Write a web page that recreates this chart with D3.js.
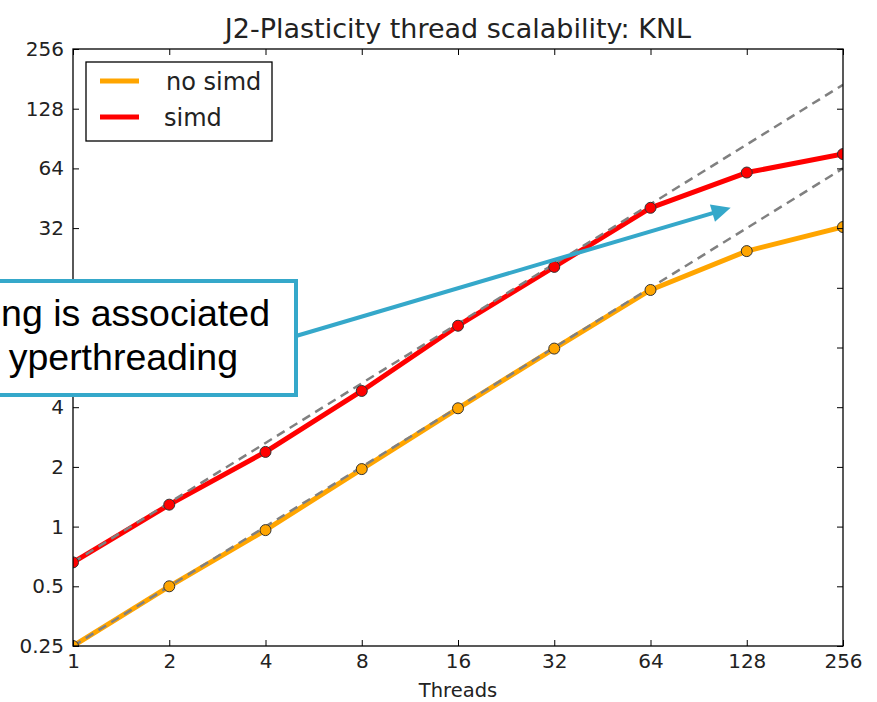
<!DOCTYPE html>
<html>
<head>
<meta charset="utf-8">
<script src="https://cdn.jsdelivr.net/npm/d3@7"></script>
<style>
  html, body { margin: 0; padding: 0; background: #fff; }
  svg { display: block; }
</style>
</head>
<body>
<div id="chart"></div>
<script>
// J2-Plasticity thread scalability (KNL), log2/log2 plot

// -------------------------------------------------------------
// Data
// -------------------------------------------------------------
const threads = [1, 2, 4, 8, 16, 32, 64, 128, 256];
const noSimd = [0.25, 0.5, 0.96, 1.95, 3.95, 7.9, 15.6, 24.5, 32.4];
const simd = [0.66, 1.29, 2.38, 4.83, 10.3, 20.4, 40.5, 61, 75.6];

const xTicks = [1, 2, 4, 8, 16, 32, 64, 128, 256];
const yTicks = [0.25, 0.5, 1, 2, 4, 8, 16, 32, 64, 128, 256];
// 16 and 8 sit under the call-out box in the reference, so no label
const yTickLabels = ["0.25", "0.5", "1", "2", "4", "", "", "32", "64", "128", "256"];

const seriesNames = ["no simd", "simd"];
const seriesColors = ["#ffa500", "#ff0000"];

const noteLines = ["ng is associated", "yperthreading"];
const noteTarget = [114, 40.5];   // arrow tip, in data units

// -------------------------------------------------------------
// Layout
// -------------------------------------------------------------
const width = 877, height = 702;
const margin = { top: 49, right: 34, bottom: 56, left: 73 };
const innerW = width - margin.left - margin.right;
const innerH = height - margin.top - margin.bottom;

const svg = d3.select("#chart").append("svg")
  .attr("width", width)
  .attr("height", height);

const x = d3.scaleLog().base(2).domain([1, 256]).range([0, innerW]);
const y = d3.scaleLog().base(2).domain([0.25, 256]).range([innerH, 0]);

const g = svg.append("g")
  .attr("transform", `translate(${margin.left},${margin.top})`);

g.append("clipPath").attr("id", "plotClip")
  .append("rect").attr("width", innerW).attr("height", innerH);

const plot = g.append("g").attr("clip-path", "url(#plotClip)");

const line = d3.line()
  .x(d => x(d[0]))
  .y(d => y(d[1]));

const series = [noSimd, simd].map((vals, i) => ({
  name: seriesNames[i],
  color: seriesColors[i],
  points: threads.map((t, j) => [t, vals[j]])
}));

// data lines
plot.selectAll("path.series")
  .data(series)
  .join("path")
  .attr("class", "series")
  .attr("fill", "none")
  .attr("stroke", d => d.color)
  .attr("stroke-width", 5)
  .attr("stroke-linejoin", "round")
  .attr("d", d => line(d.points));

// ideal scaling (dashed) from each series' first point
plot.selectAll("path.ideal")
  .data(series)
  .join("path")
  .attr("class", "ideal")
  .attr("fill", "none")
  .attr("stroke", "#808080")
  .attr("stroke-width", 2.5)
  .attr("stroke-dasharray", "9,6")
  .attr("d", d => line(threads.map(t => [t, d.points[0][1] * t])));

// markers
series.forEach(s => {
  plot.selectAll(null)
    .data(s.points)
    .join("circle")
    .attr("cx", d => x(d[0]))
    .attr("cy", d => y(d[1]))
    .attr("r", 5.5)
    .attr("fill", s.color)
    .attr("stroke", "#333")
    .attr("stroke-width", 1);
});

// -------------------------------------------------------------
// Axes (matplotlib style: inward ticks on all four sides)
// -------------------------------------------------------------
const tickFont = "DejaVu Sans, sans-serif";

g.append("g")
  .attr("transform", `translate(0,${innerH})`)
  .call(d3.axisBottom(x).tickValues(xTicks).tickFormat(d3.format("d"))
    .tickSizeInner(-6).tickSizeOuter(0).tickPadding(8));

g.append("g")
  .call(d3.axisLeft(y).tickValues(yTicks).tickFormat((d, i) => yTickLabels[i])
    .tickSizeInner(-6).tickSizeOuter(0).tickPadding(9));

g.append("g")
  .call(d3.axisTop(x).tickValues(xTicks).tickFormat("")
    .tickSizeInner(-6).tickSizeOuter(0));

g.append("g")
  .attr("transform", `translate(${innerW},0)`)
  .call(d3.axisRight(y).tickValues(yTicks).tickFormat("")
    .tickSizeInner(-6).tickSizeOuter(0));

g.selectAll(".domain").remove();
g.selectAll(".tick line").attr("stroke", "#000");
g.selectAll(".tick text")
  .attr("fill", "#222")
  .style("font-family", tickFont)
  .style("font-size", "20px");

g.append("rect")
  .attr("width", innerW)
  .attr("height", innerH)
  .attr("fill", "none")
  .attr("stroke", "#000")
  .attr("stroke-width", 1.3);

// title + axis label
svg.append("text")
  .attr("x", margin.left + innerW / 2)
  .attr("y", 38)
  .attr("text-anchor", "middle")
  .attr("fill", "#222")
  .style("font-family", tickFont)
  .style("font-size", "27px")
  .text("J2-Plasticity thread scalability: KNL");

svg.append("text")
  .attr("x", margin.left + innerW / 2)
  .attr("y", 697)
  .attr("text-anchor", "middle")
  .attr("fill", "#222")
  .style("font-family", tickFont)
  .style("font-size", "19.5px")
  .text("Threads");

// -------------------------------------------------------------
// Legend
// -------------------------------------------------------------
const legend = g.append("g").attr("transform", "translate(13,13)");

legend.append("rect")
  .attr("width", 186)
  .attr("height", 79)
  .attr("fill", "#fff")
  .attr("stroke", "#000")
  .attr("stroke-width", 1.3);

const legendItems = legend.selectAll("g.item")
  .data(series)
  .join("g")
  .attr("class", "item")
  .attr("transform", (d, i) => `translate(0,${19 + i * 36})`);

legendItems.append("line")
  .attr("x1", 14).attr("x2", 53)
  .attr("stroke", d => d.color)
  .attr("stroke-width", 5);

legendItems.append("text")
  .attr("x", (d, i) => i === 0 ? 80 : 78)
  .attr("y", 9)
  .attr("fill", "#222")
  .style("font-family", tickFont)
  .style("font-size", "24px")
  .text(d => d.name);

// -------------------------------------------------------------
// Call-out box with arrow
// -------------------------------------------------------------
const noteColor = "#35a8ca";
const tipX = margin.left + x(noteTarget[0]);
const tipY = margin.top + y(noteTarget[1]);

const boxRight = 296, boxTop = 281, boxBottom = 395;
const startX = boxRight, startY = 336;

const ang = Math.atan2(tipY - startY, tipX - startX);
const headLen = 19, headHalf = 9;
const baseX = tipX - headLen * Math.cos(ang);
const baseY = tipY - headLen * Math.sin(ang);

svg.append("line")
  .attr("x1", startX).attr("y1", startY)
  .attr("x2", baseX + 2 * Math.cos(ang)).attr("y2", baseY + 2 * Math.sin(ang))
  .attr("stroke", noteColor)
  .attr("stroke-width", 4);

svg.append("path")
  .attr("fill", noteColor)
  .attr("d", d3.line()([
    [tipX, tipY],
    [baseX + headHalf * Math.sin(ang), baseY - headHalf * Math.cos(ang)],
    [baseX - headHalf * Math.sin(ang), baseY + headHalf * Math.cos(ang)]
  ]) + "Z");

svg.append("rect")
  .attr("x", -10)
  .attr("y", boxTop)
  .attr("width", boxRight + 10)
  .attr("height", boxBottom - boxTop)
  .attr("fill", "#fff")
  .attr("stroke", noteColor)
  .attr("stroke-width", 4);

svg.selectAll("text.note")
  .data(noteLines)
  .join("text")
  .attr("class", "note")
  .attr("x", (d, i) => i === 0 ? 270 : 238)
  .attr("y", (d, i) => 326 + i * 44)
  .attr("text-anchor", "end")
  .attr("fill", "#000")
  .style("font-family", "Liberation Sans, Arial, sans-serif")
  .style("font-size", "37.5px")
  .text(d => d);
</script>
</body>
</html>
